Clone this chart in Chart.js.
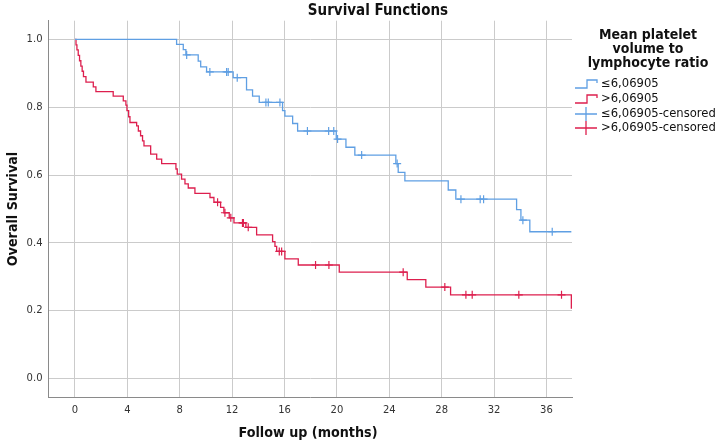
<!DOCTYPE html>
<html>
<head>
<meta charset="utf-8">
<script src="https://cdn.jsdelivr.net/npm/chart.js@4.4.1/dist/chart.umd.min.js"></script>
<style>
  html, body { margin: 0; padding: 0; background: #fff; }
  #wrap { width: 720px; height: 445px; position: relative; }
</style>
</head>
<body>
<div id="wrap"><canvas id="km"></canvas></div>
<script>
// ── survival data (months, survival) ──
const lowTimes = [0, 7.76, 8.27, 8.47, 9.41, 9.6, 10.05, 12.08, 13.1, 13.56, 14.07, 15.85, 16.03, 16.62, 17.0,
  19.95, 20.69, 21.37, 24.5, 24.68, 25.19, 28.5, 29.08, 33.72, 34.05, 34.73, 37.9];
const lowSurv  = [1.0, 0.985, 0.97, 0.954, 0.936, 0.919, 0.904, 0.887, 0.851, 0.833, 0.814, 0.79, 0.774, 0.752, 0.73,
  0.706, 0.682, 0.659, 0.634, 0.608, 0.583, 0.556, 0.529, 0.498, 0.467, 0.433, 0.433];
const lowCensTimes = [8.53, 10.3, 11.58, 11.7, 12.39, 14.58, 14.76, 15.65, 17.75, 19.37, 19.76, 20.05, 21.89, 24.6,
  29.47, 30.94, 31.2, 34.2, 36.44];
const lowCensSurv  = [0.954, 0.904, 0.904, 0.904, 0.887, 0.814, 0.814, 0.814, 0.73, 0.73, 0.73, 0.706, 0.659, 0.634,
  0.529, 0.529, 0.529, 0.467, 0.433];

const highTimes = [0, 0.08, 0.15, 0.25, 0.35, 0.45, 0.55, 0.65, 0.84, 1.4, 1.6, 2.92, 3.69, 3.89, 3.97, 4.1, 4.2,
  4.71, 4.84, 5.01, 5.16, 5.27, 5.78, 6.24, 6.62, 7.71, 7.81, 8.14, 8.4, 8.65, 9.16, 10.31, 10.61, 11.12, 11.37,
  11.78, 12.14, 13.05, 13.87, 15.09, 15.27, 15.4, 16.03, 17.05, 20.18, 25.37, 26.79, 28.68, 37.9];
const highSurv  = [1.0, 0.984, 0.969, 0.953, 0.937, 0.921, 0.906, 0.89, 0.874, 0.86, 0.846, 0.833, 0.819, 0.806,
  0.79, 0.772, 0.755, 0.745, 0.73, 0.716, 0.701, 0.686, 0.662, 0.647, 0.634, 0.618, 0.603, 0.588, 0.574, 0.562,
  0.546, 0.534, 0.52, 0.505, 0.489, 0.474, 0.459, 0.446, 0.424, 0.404, 0.39, 0.375, 0.353, 0.335, 0.314, 0.292,
  0.27, 0.247, 0.206];
const highCensTimes = [10.89, 11.45, 11.9, 12.79, 12.86, 13.23, 15.6, 15.78, 18.37, 19.39, 25.06, 28.24, 29.85,
  30.33, 33.89, 37.15];
const highCensSurv  = [0.52, 0.489, 0.474, 0.459, 0.459, 0.446, 0.375, 0.375, 0.335, 0.335, 0.314, 0.27, 0.247,
  0.247, 0.247, 0.247];

const xTicks = [0, 4, 8, 12, 16, 20, 24, 28, 32, 36];
const yTicks = [0, 0.2, 0.4, 0.6, 0.8, 1.0];
const groupLabels = ['≤6,06905', '>6,06905', '≤6,06905-censored', '>6,06905-censored'];

const BLUE = '#5f9fe3';
const RED  = '#dd1f4e';
const FONT = '"DejaVu Sans", sans-serif';
const COND = '"DejaVu Sans Condensed", "DejaVu Sans", sans-serif';

const pts = (xs, ys) => xs.map((x, i) => ({ x: x, y: ys[i] }));

// texts + legend drawn straight on the canvas
const decorations = {
  id: 'decorations',
  afterDraw(chart) {
    const ctx = chart.ctx;
    ctx.save();
    ctx.fillStyle = '#111';
    ctx.textAlign = 'center';
    ctx.textBaseline = 'middle';

    ctx.font = 'bold 15px ' + COND;
    ctx.fillText('Survival Functions', 378, 11);

    ctx.font = 'bold 14.2px ' + COND;
    ctx.fillText('Follow up (months)', 308, 433);

    ctx.save();
    ctx.translate(13, 209);
    ctx.rotate(-Math.PI / 2);
    ctx.fillText('Overall Survival', 0, 0);
    ctx.restore();

    ctx.font = 'bold 14px ' + COND;
    ['Mean platelet', 'volume to', 'lymphocyte ratio'].forEach((t, i) => ctx.fillText(t, 648, 35 + i * 14));

    // legend rows
    const rows = [84, 99, 114, 128];
    const cols = [BLUE, RED, BLUE, RED];
    ctx.font = '11.6px ' + FONT;
    ctx.textAlign = 'left';
    rows.forEach((y, i) => {
      ctx.strokeStyle = cols[i];
      ctx.lineWidth = 1.3;
      ctx.beginPath();
      if (i < 2) {
        ctx.moveTo(575, y + 4); ctx.lineTo(587, y + 4); ctx.lineTo(587, y - 4);
        ctx.lineTo(597, y - 4); ctx.lineTo(597, y - 1);
      } else {
        ctx.moveTo(575, y); ctx.lineTo(597, y);
        ctx.moveTo(586, y - 7); ctx.lineTo(586, y + 7);
      }
      ctx.stroke();
      ctx.fillStyle = '#111';
      ctx.fillText(groupLabels[i], 601, y);
    });
    ctx.restore();
  }
};

new Chart(document.getElementById('km'), {
  type: 'line',
  data: {
    datasets: [
      { label: groupLabels[0], data: pts(lowTimes, lowSurv), borderColor: BLUE, borderWidth: 1.3,
        stepped: 'before', pointRadius: 0, fill: false },
      { label: groupLabels[1], data: pts(highTimes, highSurv), borderColor: RED, borderWidth: 1.3,
        stepped: 'before', pointRadius: 0, fill: false },
      { label: groupLabels[2], type: 'scatter', data: pts(lowCensTimes, lowCensSurv), pointStyle: 'cross',
        pointRadius: 4, borderColor: BLUE, backgroundColor: BLUE, pointBorderWidth: 1.2 },
      { label: groupLabels[3], type: 'scatter', data: pts(highCensTimes, highCensSurv), pointStyle: 'cross',
        pointRadius: 4, borderColor: RED, backgroundColor: RED, pointBorderWidth: 1.2 }
    ]
  },
  options: {
    responsive: true,
    maintainAspectRatio: false,
    animation: false,
    layout: { padding: { top: 20.7, right: 148, left: 0, bottom: 0 } },
    plugins: { legend: { display: false }, tooltip: { enabled: false }, title: { display: false } },
    scales: {
      x: {
        type: 'linear', min: -2.02, max: 37.95,
        afterBuildTicks: s => { s.ticks = xTicks.map(v => ({ value: v })); },
        afterFit: s => { s.height = 48; },
        grid: { color: '#cbcbcb', drawTicks: false },
        border: { display: true, color: '#8a8a8a' },
        ticks: { padding: 7, color: '#333', font: { family: FONT, size: 10 } }
      },
      y: {
        type: 'linear', min: -0.054, max: 1.055,
        afterBuildTicks: s => { s.ticks = yTicks.map(v => ({ value: v })); },
        afterFit: s => { s.width = 48.5; },
        grid: { color: '#cbcbcb', drawTicks: false },
        border: { display: true, color: '#8a8a8a' },
        ticks: { padding: 6, color: '#333', font: { family: FONT, size: 10 }, callback: v => v.toFixed(1) }
      }
    }
  },
  plugins: [decorations]
});
</script>
</body>
</html>
